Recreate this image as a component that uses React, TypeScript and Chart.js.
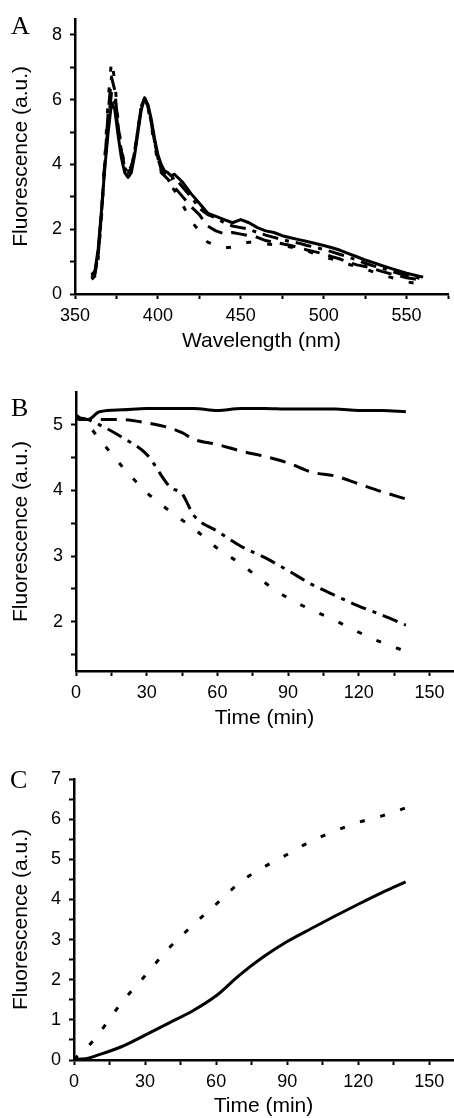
import React, { useEffect, useRef } from "react";
import { Chart, registerables } from "chart.js";

Chart.register(...registerables);

const W = 454;
const FONT = "'Liberation Sans', Arial, sans-serif";

// ---------- Panel A: emission spectra ----------
const aWavelength = [
  360, 362, 364, 366, 368, 370, 372, 374, 376, 378, 380, 382, 384, 386, 388, 390, 392, 394, 396, 398, 400, 402, 404, 406, 408, 410,
  415, 420, 425, 430, 435, 440, 445, 450, 455, 460, 465, 470, 475, 480, 485, 490, 495, 500, 505, 510, 515, 520, 525, 530, 535, 540, 545, 550, 555, 560,
];
const aSolid = [
  0.6, 0.7, 1.4, 2.6, 3.9, 5.0, 5.9, 5.7, 4.9, 4.2, 3.75, 3.6, 3.75, 4.3, 5.0, 5.7, 6.05, 5.85, 5.4, 4.8, 4.3, 4.0, 3.8, 3.75, 3.65, 3.7,
  3.45, 3.1, 2.8, 2.5, 2.4, 2.3, 2.2, 2.3, 2.2, 2.05, 1.95, 1.9, 1.8, 1.74, 1.68, 1.62, 1.56, 1.5, 1.43, 1.35, 1.25, 1.15, 1.05, 0.97, 0.88, 0.8, 0.72, 0.64, 0.58, 0.52,
];
const aDashDot = [
  0.55, 0.65, 1.3, 2.5, 4.0, 5.3, 6.2, 5.9, 5.1, 4.4, 3.9, 3.75, 3.9, 4.4, 5.1, 5.8, 6.05, 5.8, 5.3, 4.7, 4.2, 3.85, 3.7, 3.65, 3.55, 3.6,
  3.3, 3.0, 2.65, 2.45, 2.35, 2.2, 2.1, 2.05, 2.0, 1.9, 1.82, 1.75, 1.68, 1.62, 1.57, 1.5, 1.44, 1.38, 1.3, 1.22, 1.14, 1.05, 0.95, 0.87, 0.8, 0.72, 0.64, 0.57, 0.52, 0.46,
];
const aDashed = [
  0.5, 0.6, 1.2, 2.5, 4.1, 5.6, 6.7, 6.3, 5.2, 4.4, 3.9, 3.75, 3.9, 4.4, 5.1, 5.8, 6.05, 5.8, 5.3, 4.7, 4.2, 3.8, 3.65, 3.55, 3.4, 3.3,
  3.0, 2.7, 2.45, 2.1, 1.95, 1.86, 1.9, 1.85, 1.8, 1.75, 1.65, 1.6, 1.55, 1.5, 1.43, 1.36, 1.3, 1.24, 1.15, 1.08, 0.98, 0.9, 0.85, 0.78, 0.7, 0.63, 0.57, 0.5, 0.46, 0.42,
];
const aDotted = [
  0.45, 0.55, 1.1, 2.4, 4.2, 6.0, 7.2, 6.6, 5.3, 4.5, 3.95, 3.8, 3.95, 4.4, 5.1, 5.8, 6.05, 5.75, 5.2, 4.6, 4.1, 3.75, 3.65, 3.5, 3.33, 3.2,
  2.75, 2.25, 1.95, 1.6, 1.5, 1.42, 1.45, 1.55, 1.6, 1.58, 1.55, 1.52, 1.5, 1.45, 1.4, 1.33, 1.24, 1.15, 1.08, 1.0, 0.92, 0.84, 0.78, 0.68, 0.6, 0.52, 0.45, 0.38, 0.33, 0.28,
];
const aXTicks = [350, 375, 400, 425, 450, 475, 500, 525, 550, 575];
const aYTicks = [0, 1, 2, 3, 4, 5, 6, 7, 8];

// ---------- Panel B: fluorescence decay ----------
const bTime = [0, 2, 5, 10, 20, 30, 40, 45, 50, 60, 70, 80, 90, 100, 110, 120, 130, 140];
const bSolid = [5.15, 5.1, 5.08, 5.2, 5.23, 5.25, 5.25, 5.25, 5.25, 5.22, 5.25, 5.25, 5.24, 5.24, 5.24, 5.22, 5.22, 5.2];
const bDashed = [5.1, 5.08, 5.08, 5.08, 5.08, 5.03, 4.95, 4.88, 4.78, 4.7, 4.6, 4.52, 4.42, 4.28, 4.22, 4.1, 3.98, 3.87];
const bDashDot = [5.1, 5.1, 5.08, 5.0, 4.8, 4.55, 4.05, 3.95, 3.62, 3.38, 3.15, 2.98, 2.78, 2.57, 2.4, 2.24, 2.1, 1.95];
const bDotted = [5.1, 5.08, 5.0, 4.78, 4.35, 3.97, 3.68, 3.55, 3.42, 3.12, 2.88, 2.6, 2.36, 2.18, 2.02, 1.84, 1.68, 1.55];
const bYTicks = [1.5, 2, 2.5, 3, 3.5, 4, 4.5, 5];

// ---------- Panel C: fluorescence increase ----------
const cTime = [0, 5, 10, 20, 30, 40, 50, 60, 70, 80, 90, 100, 110, 120, 130, 140];
const cSolid = [0.02, 0.03, 0.12, 0.33, 0.62, 0.92, 1.22, 1.6, 2.12, 2.57, 2.95, 3.27, 3.58, 3.88, 4.17, 4.44];
const cDotted = [0.02, 0.28, 0.62, 1.42, 2.1, 2.78, 3.35, 3.88, 4.42, 4.8, 5.12, 5.45, 5.7, 5.92, 6.08, 6.28];
const cYTicks = [0, 0.5, 1, 1.5, 2, 2.5, 3, 3.5, 4, 4.5, 5, 5.5, 6, 6.5, 7];

const timeTicks = [0, 15, 30, 45, 60, 75, 90, 105, 120, 135, 150];

const DASH_SOLID: number[] = [];
const DASH_DASHED = [16, 9];
const DASH_DASHDOT = [16, 7, 4, 7];
const DASH_DOTTED = [5, 16];

function series(xs: number[], ys: number[], dash: number[], smooth = false) {
  return {
    data: xs.map((x, i) => ({ x, y: ys[i] })),
    borderColor: "#000",
    borderWidth: 3,
    borderDash: dash,
    borderCapStyle: "butt",
    borderJoinStyle: "round",
    pointRadius: 0,
    fill: false,
    tension: smooth ? 0.4 : 0,
    cubicInterpolationMode: smooth ? "monotone" : "default",
  };
}

function isMultiple(v: number, step: number) {
  const r = Math.abs(v / step - Math.round(v / step));
  return r < 1e-6;
}

function xScale(min: number, max: number, ticks: number[], labelStep: number, height: number, text: string, titlePad: number) {
  return {
    type: "linear",
    position: "bottom",
    min,
    max,
    afterBuildTicks: (s: any) => {
      s.ticks = ticks.map((v) => ({ value: v }));
    },
    afterFit: (s: any) => {
      s.height = height;
    },
    ticks: {
      autoSkip: false,
      maxRotation: 0,
      minRotation: 0,
      padding: 6,
      color: "#000",
      font: { family: FONT, size: 18 },
      callback: (v: number) => (isMultiple(v, labelStep) ? String(v) : ""),
    },
    grid: { drawOnChartArea: false, drawTicks: true, tickLength: 5, tickWidth: 2, color: "#000" },
    border: { display: true, color: "#000", width: 2.5 },
    title: {
      display: true,
      text,
      color: "#000",
      font: { family: FONT, size: 21, lineHeight: 1 },
      padding: { top: 0, bottom: titlePad },
    },
  };
}

function yScale(min: number, max: number, ticks: number[], labelStep: number, width: number, text: string) {
  return {
    type: "linear",
    position: "left",
    min,
    max,
    afterBuildTicks: (s: any) => {
      s.ticks = ticks.map((v) => ({ value: v }));
    },
    afterFit: (s: any) => {
      s.width = width;
    },
    ticks: {
      autoSkip: false,
      padding: 8,
      color: "#000",
      font: { family: FONT, size: 18 },
      callback: (v: number) => (isMultiple(v, labelStep) ? String(v) : ""),
    },
    grid: { drawOnChartArea: false, drawTicks: true, tickLength: 5, tickWidth: 2, color: "#000" },
    border: { display: true, color: "#000", width: 2.5 },
    title: { display: true, text, color: "#000", font: { family: FONT, size: 21 }, padding: { top: 9, bottom: 0 } },
  };
}

function baseOptions(padding: any, x: any, y: any) {
  return {
    responsive: false,
    animation: false,
    events: [],
    layout: { padding },
    plugins: { legend: { display: false }, tooltip: { enabled: false }, title: { display: false } },
    scales: { x, y },
  };
}

function ChartPanel({ top, height, build }: { top: number; height: number; build: () => any }) {
  const ref = useRef<HTMLCanvasElement>(null);
  useEffect(() => {
    const chart = new Chart(ref.current as HTMLCanvasElement, build());
    return () => chart.destroy();
  }, []);
  return (
    <div style={{ position: "absolute", left: 0, top, width: W, height }}>
      <canvas ref={ref} width={W} height={height} style={{ display: "block", width: W, height }} />
    </div>
  );
}

const buildA = () => ({
  type: "line",
  data: {
    datasets: [
      series(aWavelength, aDotted, DASH_DOTTED),
      series(aWavelength, aDashed, DASH_DASHED),
      series(aWavelength, aDashDot, DASH_DASHDOT),
      series(aWavelength, aSolid, DASH_SOLID),
    ],
  },
  options: baseOptions(
    { top: 16, right: 3, left: 0, bottom: 0 },
    xScale(350, 575, aXTicks, 50, 66, "Wavelength (nm)", 8),
    yScale(0, 8.5, aYTicks, 2, 75, "Fluorescence (a.u.)")
  ),
});

const buildB = () => ({
  type: "line",
  data: {
    datasets: [
      series(bTime, bDotted, DASH_DOTTED, true),
      series(bTime, bDashDot, DASH_DASHDOT, true),
      series(bTime, bDashed, DASH_DASHED, true),
      series(bTime, bSolid, DASH_SOLID, true),
    ],
  },
  options: baseOptions(
    { top: 32, right: 1, left: 0, bottom: 0 },
    xScale(0, 160, timeTicks, 30, 59, "Time (min)", 1),
    yScale(1.25, 5.5, bYTicks, 1, 76, "Fluorescence (a.u.)")
  ),
});

const buildC = () => ({
  type: "line",
  data: {
    datasets: [series(cTime, cDotted, DASH_DOTTED, true), series(cTime, cSolid, DASH_SOLID, true)],
  },
  options: baseOptions(
    { top: 49, right: 1, left: 0, bottom: 0 },
    xScale(0, 160, timeTicks, 30, 58, "Time (min)", 1),
    yScale(0, 7, cYTicks, 1, 74, "Fluorescence (a.u.)")
  ),
});

const letterStyle: React.CSSProperties = {
  position: "absolute",
  fontFamily: "'Liberation Serif', 'Times New Roman', serif",
  fontSize: 26,
  lineHeight: 1,
  color: "#000",
};

export default function App() {
  return (
    <div style={{ position: "absolute", left: 0, top: 0, width: W, height: 1118, background: "#fff", overflow: "hidden" }}>
      <ChartPanel top={0} height={360} build={buildA} />
      <ChartPanel top={360} height={370} build={buildB} />
      <ChartPanel top={730} height={388} build={buildC} />
      <div style={{ ...letterStyle, left: 11, top: 13 }}>A</div>
      <div style={{ ...letterStyle, left: 11, top: 395 }}>B</div>
      <div style={{ ...letterStyle, left: 10, top: 767 }}>C</div>
    </div>
  );
}
